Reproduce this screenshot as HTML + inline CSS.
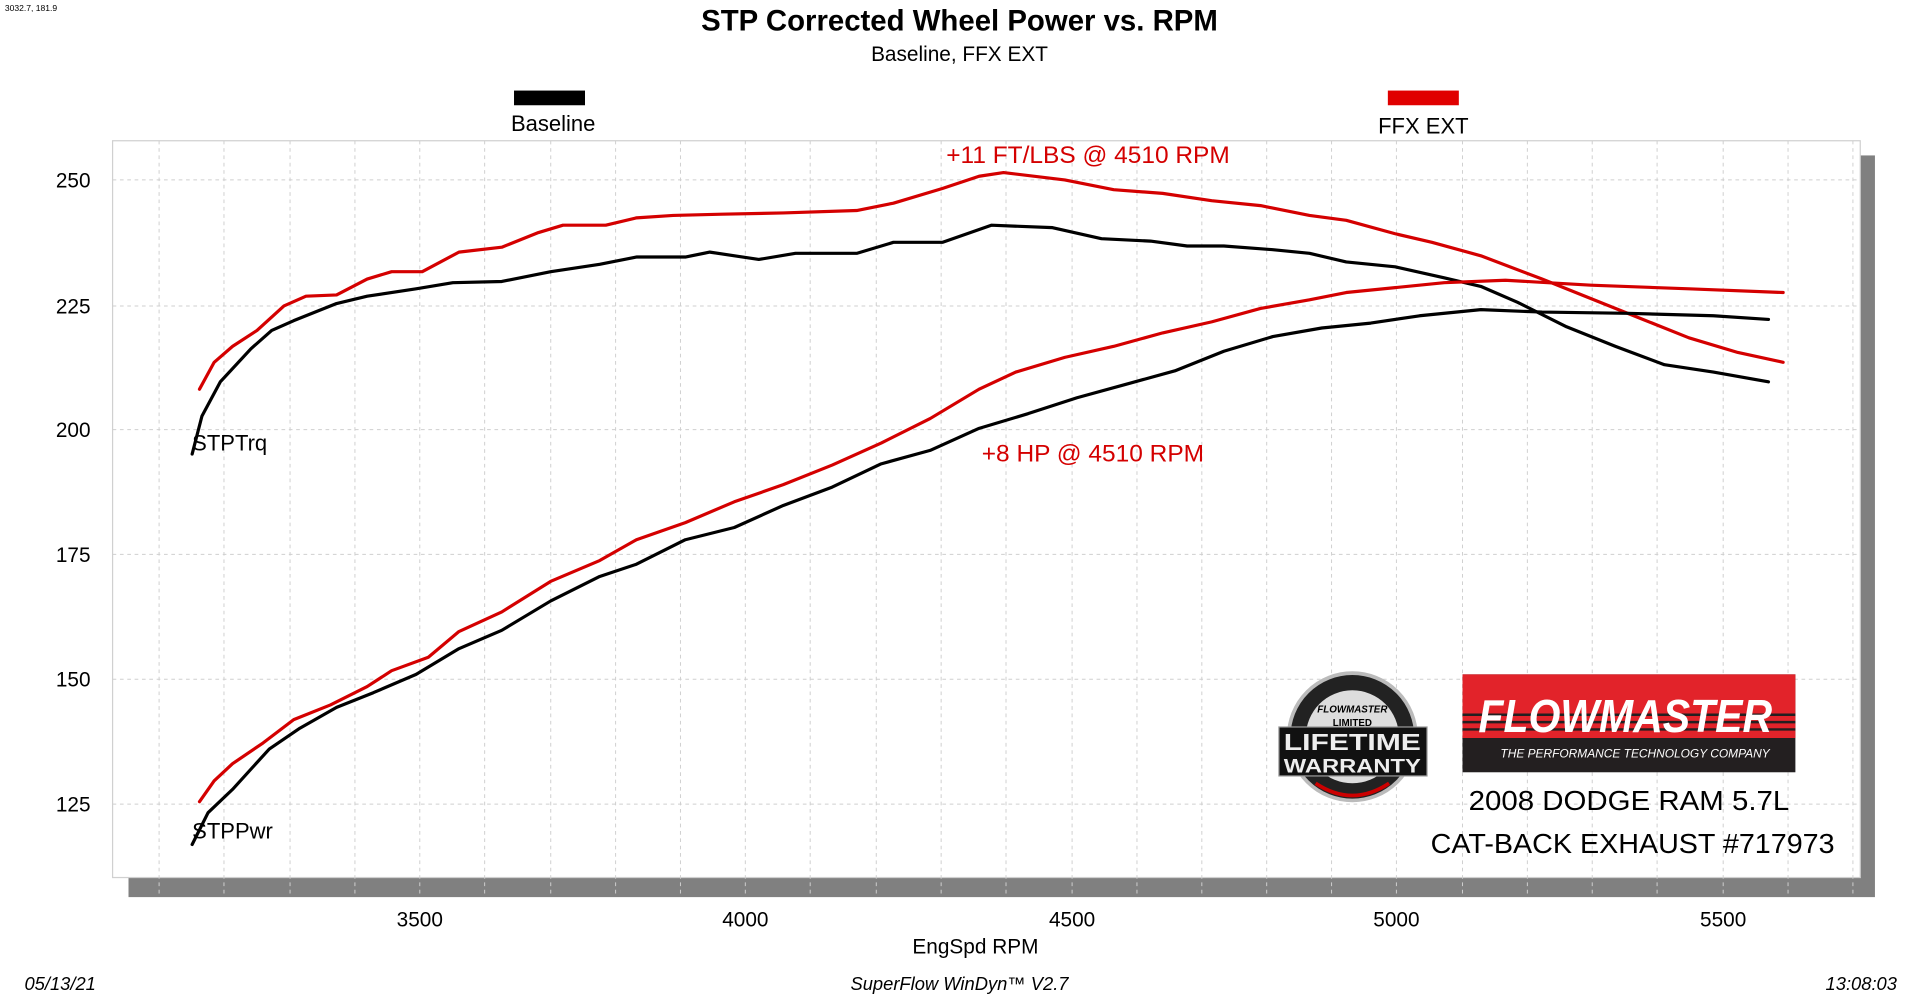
<!DOCTYPE html>
<html><head><meta charset="utf-8"><style>html,body{margin:0;padding:0;background:#fff;overflow:hidden}svg{display:block}</style></head>
<body>
<svg width="1919" height="996" viewBox="0 0 1568 813.8" preserveAspectRatio="none" xmlns="http://www.w3.org/2000/svg" font-family="Liberation Sans, Arial, sans-serif">
<text x="4" y="9" font-size="7" fill="#000">3032.7, 181.9</text>
<text x="784" y="25" text-anchor="middle" font-size="24" font-weight="bold">STP Corrected Wheel Power vs. RPM</text>
<text x="784" y="50" text-anchor="middle" font-size="17">Baseline, FFX EXT</text>
<rect x="420" y="74" width="58" height="12" fill="#000"/>
<text x="452" y="107" text-anchor="middle" font-size="18">Baseline</text>
<rect x="1134" y="74" width="58" height="12" fill="#e00000"/>
<text x="1163" y="109" text-anchor="middle" font-size="18">FFX EXT</text>
<!-- shadow + plot -->
<rect x="105" y="127" width="1427" height="606" fill="#808080"/>
<rect x="92" y="115" width="1428" height="602" fill="#fff" stroke="#d0d0d0" stroke-width="1"/>
<g stroke="#cfcfcf" stroke-width="0.8" stroke-dasharray="3,3" fill="none">
<path d="M92 147H1520M92 250H1520M92 351H1520M92 453H1520M92 555H1520M92 657H1520"/>
<path d="M130 115V733M183 115V733M237 115V733M290 115V733M343 115V733M396 115V733M450 115V733M503 115V733M556 115V733M609 115V733M662 115V733M716 115V733M769 115V733M822 115V733M876 115V733M929 115V733M982 115V733M1035 115V733M1088 115V733M1141 115V733M1195 115V733M1248 115V733M1301 115V733M1354 115V733M1408 115V733M1461 115V733M1514 115V733"/>
</g>
<g font-size="17" text-anchor="end" fill="#000">
<text x="74" y="153">250</text><text x="74" y="256">225</text><text x="74" y="357">200</text><text x="74" y="459">175</text><text x="74" y="561">150</text><text x="74" y="663">125</text>
</g>
<g font-size="17" text-anchor="middle" fill="#000">
<text x="343" y="757">3500</text><text x="609" y="757">4000</text><text x="876" y="757">4500</text><text x="1141" y="757">5000</text><text x="1408" y="757">5500</text>
<text x="797" y="779">EngSpd  RPM</text>
</g>
<g font-size="15" font-style="italic" fill="#000">
<text x="20" y="809">05/13/21</text>
<text x="784" y="809" text-anchor="middle">SuperFlow WinDyn™ V2.7</text>
<text x="1550" y="809" text-anchor="end">13:08:03</text>
</g>
<g fill="none" stroke-width="2.6" stroke-linejoin="round" stroke-linecap="round">
<polyline stroke="#000" points="157,371 165,340 180,312 205,285 222,270 240,262 275,248 300,242 340,236 370,231 410,230 450,222 490,216 520,210 560,210 580,206 620,212 650,207 700,207 730,198 770,198 810,184 860,186 900,195 940,197 970,201 1000,201 1040,204 1070,207 1100,214 1140,218 1180,227 1210,234 1240,247 1280,267 1320,283 1360,298 1400,304 1445,312"/>
<polyline stroke="#d40000" points="163,318 175,296 190,283 210,270 232,250 250,242 275,241 300,228 320,222 345,222 375,206 410,202 440,190 460,184 495,184 520,178 550,176 590,175 640,174 700,172 730,166 770,154 800,144 820,141 870,147 910,155 950,158 990,164 1030,168 1070,176 1100,180 1140,191 1170,198 1210,209 1260,228 1300,244 1340,260 1380,276 1420,288 1457,296"/>
<polyline stroke="#000" points="157,690 170,664 190,645 220,612 245,595 275,578 305,566 340,551 375,530 410,515 450,491 490,471 520,461 560,441 600,431 640,413 680,398 720,379 760,368 800,350 840,338 880,325 920,314 960,303 1000,287 1040,275 1080,268 1120,264 1160,258 1210,253 1260,255 1330,256 1400,258 1445,261"/>
<polyline stroke="#d40000" points="163,655 175,638 190,624 215,607 240,588 270,576 300,561 320,548 350,537 375,516 410,500 450,475 490,458 520,441 560,427 600,410 640,396 680,380 720,362 760,342 800,318 830,304 870,292 910,283 950,272 990,263 1030,252 1070,245 1100,239 1140,235 1180,231 1230,229 1300,233 1380,236 1457,239"/>
</g>
<text x="157" y="368" font-size="18">STPTrq</text>
<text x="157" y="685" font-size="18">STPPwr</text>
<text x="889" y="133" text-anchor="middle" font-size="20" fill="#d40000">+11 FT/LBS @ 4510 RPM</text>
<text x="893" y="377" text-anchor="middle" font-size="20" fill="#d40000">+8 HP @ 4510 RPM</text>
<!-- warranty badge -->
<circle cx="1105" cy="602" r="52" fill="#222" stroke="#bbb" stroke-width="3"/>
<circle cx="1105" cy="602" r="38" fill="#ddd"/>
<path d="M1075 640 Q1105 660 1135 640" stroke="#c00" stroke-width="3" fill="none"/>
<text x="1105" y="582" text-anchor="middle" font-size="8" font-style="italic" font-weight="bold">FLOWMASTER</text>
<text x="1105" y="593" text-anchor="middle" font-size="8" font-weight="bold">LIMITED</text>
<rect x="1045" y="594" width="121" height="40" fill="#111" stroke="#999"/>
<text x="1105" y="613" text-anchor="middle" font-size="19" font-weight="bold" fill="#eee" textLength="112" lengthAdjust="spacingAndGlyphs">LIFETIME</text>
<text x="1105" y="631" text-anchor="middle" font-size="16" font-weight="bold" fill="#eee" textLength="112" lengthAdjust="spacingAndGlyphs">WARRANTY</text>
<!-- flowmaster logo -->
<rect x="1195" y="551" width="272" height="80" fill="#231f20"/>
<rect x="1195" y="551" width="272" height="52" fill="#e2232a"/>
<g stroke="#231f20" stroke-width="2"><path d="M1195 584H1467M1195 590H1467M1195 596H1467"/></g>
<text x="1328" y="598" text-anchor="middle" font-size="38" font-weight="bold" font-style="italic" fill="#fff" textLength="240" lengthAdjust="spacingAndGlyphs">FLOWMASTER</text>
<text x="1336" y="619" text-anchor="middle" font-size="10" font-style="italic" fill="#fff" textLength="220" lengthAdjust="spacingAndGlyphs">THE PERFORMANCE TECHNOLOGY COMPANY</text>
<text x="1331" y="662" text-anchor="middle" font-size="23" textLength="262" lengthAdjust="spacingAndGlyphs">2008 DODGE RAM 5.7L</text>
<text x="1334" y="697" text-anchor="middle" font-size="23" textLength="330" lengthAdjust="spacingAndGlyphs">CAT-BACK EXHAUST #717973</text>
</svg>
</body></html>
